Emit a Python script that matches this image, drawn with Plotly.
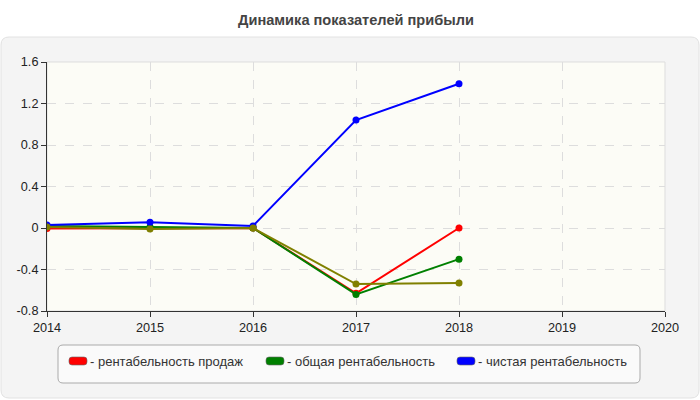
import plotly.graph_objects as go

# Years and profitability indicators
years = [2014, 2015, 2016, 2017, 2018]
sales_margin = [-0.005, 0.0, 0.0, -0.63, 0.0]       # рентабельность продаж
total_margin = [0.02, 0.01, 0.0, -0.64, -0.30]      # общая рентабельность
net_margin = [0.03, 0.055, 0.02, 1.04, 1.39]        # чистая рентабельность
extra_series = [0.01, -0.01, 0.0, -0.54, -0.53]     # olive series, not in legend

y_ticks = [-0.8, -0.4, 0, 0.4, 0.8, 1.2, 1.6]
y_tick_labels = ["-0.8", "-0.4", "0", "0.4", "0.8", "1.2", "1.6"]
x_ticks = [2014, 2015, 2016, 2017, 2018, 2019, 2020]

legend_names = ["рентабельность продаж", "общая рентабельность", "чистая рентабельность"]
legend_colors = ["#ff0000", "#008000", "#0000ff"]

fig = go.Figure()

series = [
    (sales_margin, "#ff0000"),
    (total_margin, "#008000"),
    (net_margin, "#0000ff"),
    (extra_series, "#808000"),
]
for vals, col in series:
    fig.add_trace(go.Scatter(
        x=years, y=vals, mode="lines+markers",
        line=dict(color=col, width=2),
        marker=dict(color=col, size=7),
        showlegend=False, hoverinfo="skip",
    ))

W, H = 700, 400
ml, mr, mt, mb = 47, 35, 62, 89
pw, ph = W - ml - mr, H - mt - mb


def px(x):
    return (x - ml) / pw


def py(y):
    return (H - mb - y) / ph


def rounded_paper(x0, y0, x1, y1, r):
    # rounded rectangle given in pixels, converted to paper coords
    pts = [
        ("M", (x0 + r, y0)), ("L", (x1 - r, y0)), ("Q", (x1, y0), (x1, y0 + r)),
        ("L", (x1, y1 - r)), ("Q", (x1, y1), (x1 - r, y1)), ("L", (x0 + r, y1)),
        ("Q", (x0, y1), (x0, y1 - r)), ("L", (x0, y0 + r)), ("Q", (x0, y0), (x0 + r, y0)),
    ]
    out = []
    for cmd, *coords in pts:
        out.append(cmd + " " + " ".join(f"{px(a):.5f},{py(b):.5f}" for a, b in coords))
    return " ".join(out) + " Z"


shapes = []
shapes.append(dict(
    type="path", xref="paper", yref="paper", layer="below",
    path=rounded_paper(1, 37, 699, 398, 8),
    fillcolor="#f4f4f4", line=dict(color="#e2e2e2", width=1),
))
shapes.append(dict(
    type="rect", xref="paper", yref="paper", layer="below",
    x0=0, x1=1, y0=0, y1=1,
    fillcolor="#fcfcf6", line=dict(color="#dddddd", width=1),
))
# legend box
shapes.append(dict(
    type="path", xref="paper", yref="paper", layer="below",
    path=rounded_paper(58, 345, 640, 383, 5),
    fillcolor="#fafafa", line=dict(color="#aaaaaa", width=1),
))

annotations = []
swatch_x = [69, 266, 457]
for name, col, sx in zip(legend_names, legend_colors, swatch_x):
    shapes.append(dict(
        type="path", xref="paper", yref="paper",
        path=rounded_paper(sx, 357, sx + 18, 365, 3),
        fillcolor=col, line=dict(color="#666666", width=0.6),
    ))
    annotations.append(dict(
        x=px(sx + 19), y=py(361.5), xref="paper", yref="paper",
        xanchor="left", yanchor="middle", showarrow=False,
        text="- " + name, font=dict(size=13, color="#333333"),
    ))

fig.update_layout(
    width=W, height=H,
    margin=dict(l=ml, r=mr, t=mt, b=mb),
    paper_bgcolor="white",
    plot_bgcolor="rgba(0,0,0,0)",
    font=dict(family="Liberation Sans, Arial, sans-serif", color="#222222"),
    title=dict(
        text="<b>Динамика показателей прибыли</b>",
        x=0.5, xref="paper", xanchor="center", y=1 - 20 / H, yanchor="middle",
        font=dict(size=14.6, color="#444444"),
    ),
    shapes=shapes,
    annotations=annotations,
    showlegend=False,
)
fig.update_xaxes(
    range=[2014, 2020], tickvals=x_ticks, showgrid=True,
    gridcolor="#dddddd", griddash="dash", gridwidth=1,
    showline=True, linecolor="#333333", linewidth=1,
    ticks="outside", ticklen=5, tickcolor="#333333",
    tickfont=dict(size=12.7, color="#222222"), zeroline=False,
)
fig.update_yaxes(
    range=[-0.8, 1.6], tickvals=y_ticks, ticktext=y_tick_labels, showgrid=True,
    gridcolor="#dddddd", griddash="dash", gridwidth=1,
    showline=True, linecolor="#333333", linewidth=1,
    ticks="outside", ticklen=5, tickcolor="#333333",
    tickfont=dict(size=12.7, color="#222222"), zeroline=False,
)

fig.write_html("out.html", config={"displayModeBar": False},
               post_script="document.body.style.margin='0';")
